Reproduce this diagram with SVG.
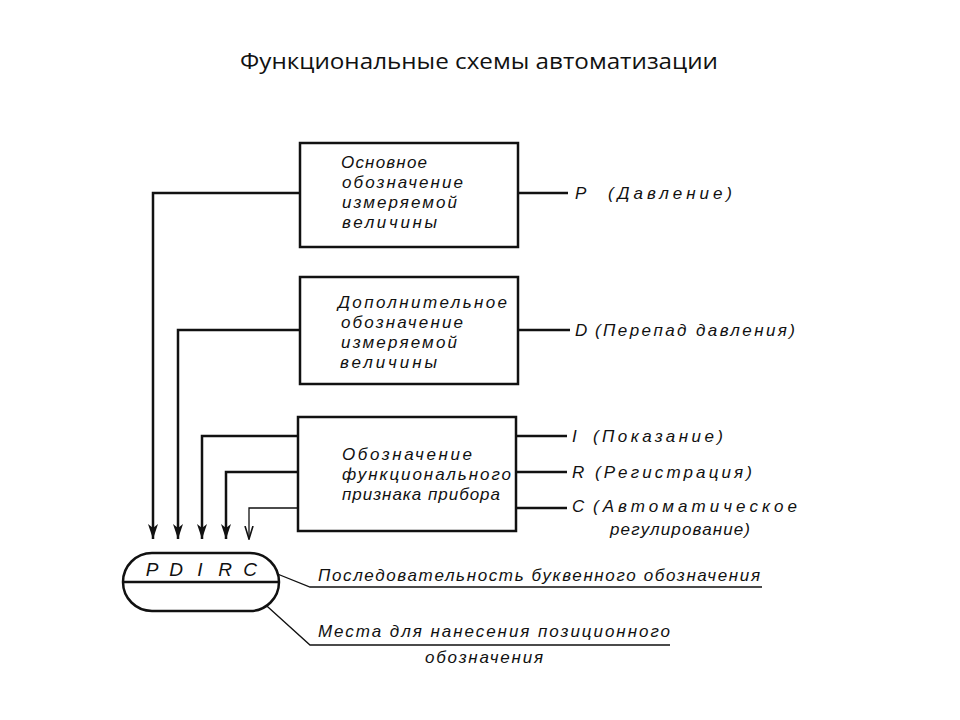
<svg xmlns="http://www.w3.org/2000/svg" width="960" height="720" viewBox="0 0 960 720">
<style>
.box{fill:#fff;stroke:#111;stroke-width:2.5}
.ln{fill:none;stroke:#111;stroke-width:2.5}
.thin{fill:none;stroke:#111;stroke-width:1.3}
.t{font-family:"Liberation Sans",Arial,sans-serif;font-style:italic;font-size:17px;fill:#111}
.big{font-size:19px}
.title{font-family:"Open Sans","Liberation Sans",sans-serif;font-size:22px;fill:#111}
</style>
<defs>
<marker id="ah" markerWidth="10" markerHeight="16" refX="5" refY="15" markerUnits="userSpaceOnUse" viewBox="0 0 10 16">
<path d="M0,0 L5,15 L10,0 L5,4 Z" fill="#111"/>
</marker>
<marker id="ahs" markerWidth="10" markerHeight="14" refX="5" refY="13" markerUnits="userSpaceOnUse" viewBox="0 0 10 14">
<path d="M1,0 L5,13 L9,0" fill="none" stroke="#111" stroke-width="1.6"/>
</marker>
</defs>
<rect width="960" height="720" fill="#fff"/>
<text class="title" x="479" y="69" text-anchor="middle" textLength="478" lengthAdjust="spacingAndGlyphs">Функциональные схемы автоматизации</text>

<g id="connectors">
<path class="ln" d="M300,193 H153 V539" marker-end="url(#ah)"/>
<path class="ln" d="M300,330 H178 V539" marker-end="url(#ah)"/>
<path class="ln" d="M298,436 H202 V539" marker-end="url(#ah)"/>
<path class="ln" d="M298,472 H226 V539" marker-end="url(#ah)"/>
<path class="thin" d="M298,508 H249 V539" marker-end="url(#ahs)"/>
<path class="ln" d="M518,193 H568"/>
<path class="ln" d="M518,330 H570"/>
<path class="ln" d="M516,436 H567"/>
<path class="ln" d="M516,472 H567"/>
<path class="ln" d="M516,508 H567"/>
<path class="thin" d="M270,571 L310,587 H762"/>
<path class="thin" d="M258,598 L310,645 H670"/>
</g>

<g id="node-main">
<rect class="box" x="300" y="143" width="218" height="104"/>
<text class="t" x="341" y="168" textLength="86" lengthAdjust="spacing">Основное</text>
<text class="t" x="342" y="188" textLength="121" lengthAdjust="spacing">обозначение</text>
<text class="t" x="342" y="208" textLength="115" lengthAdjust="spacing">измеряемой</text>
<text class="t" x="342" y="228" textLength="95" lengthAdjust="spacing">величины</text>
</g>

<g id="node-additional">
<rect class="box" x="300" y="277" width="218" height="107"/>
<text class="t" x="338" y="308" textLength="169" lengthAdjust="spacing">Дополнительное</text>
<text class="t" x="341" y="328" textLength="122" lengthAdjust="spacing">обозначение</text>
<text class="t" x="341" y="348" textLength="116" lengthAdjust="spacing">измеряемой</text>
<text class="t" x="340" y="368" textLength="97" lengthAdjust="spacing">величины</text>
</g>

<g id="node-function">
<rect class="box" x="298" y="417" width="218" height="114"/>
<text class="t" x="342" y="460" textLength="130" lengthAdjust="spacing">Обозначение</text>
<text class="t" x="342" y="480" textLength="169" lengthAdjust="spacing">функционального</text>
<text class="t" x="342" y="500" textLength="158" lengthAdjust="spacing">признака прибора</text>
</g>

<g id="labels-right">
<text class="t" x="575" y="199">P</text>
<text class="t" x="608" y="199" textLength="124" lengthAdjust="spacing">(Давление)</text>
<text class="t" x="575" y="336">D</text>
<text class="t" x="595" y="336" textLength="200" lengthAdjust="spacing">(Перепад давления)</text>
<text class="t" x="572" y="442">I</text>
<text class="t" x="593" y="442" textLength="130" lengthAdjust="spacing">(Показание)</text>
<text class="t" x="572" y="478">R</text>
<text class="t" x="595" y="478" textLength="157" lengthAdjust="spacing">(Регистрация)</text>
<text class="t" x="572" y="512">C</text>
<text class="t" x="593" y="512" textLength="204" lengthAdjust="spacing">(Автоматическое</text>
<text class="t" x="610" y="535" textLength="140" lengthAdjust="spacing">регулирование)</text>
</g>

<g id="node-instrument">
<rect class="box" x="123" y="553" width="156" height="58" rx="29" ry="29"/>
<line class="ln" x1="124" y1="582" x2="278" y2="582" stroke-width="2"/>
<text class="t big" x="152" y="576" text-anchor="middle">P</text>
<text class="t big" x="176" y="576" text-anchor="middle">D</text>
<text class="t big" x="200" y="576" text-anchor="middle">I</text>
<text class="t big" x="225" y="576" text-anchor="middle">R</text>
<text class="t big" x="250" y="576" text-anchor="middle">C</text>
</g>

<g id="labels-bottom">
<text class="t" x="318" y="581" textLength="442" lengthAdjust="spacing">Последовательность буквенного обозначения</text>
<text class="t" x="318" y="637" textLength="352" lengthAdjust="spacing">Места для нанесения позиционного</text>
<text class="t" x="425" y="663" textLength="118" lengthAdjust="spacing">обозначения</text>
</g>
</svg>
